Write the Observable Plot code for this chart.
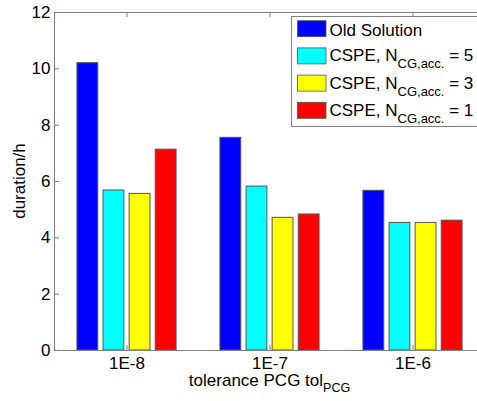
<!DOCTYPE html>
<html><head><meta charset="utf-8">
<script src="https://cdn.jsdelivr.net/npm/d3@7"></script>
<script src="https://cdn.jsdelivr.net/npm/@observablehq/plot@0.6"></script>
<style>
body{margin:0;background:#fff;}
#chart{width:477px;height:401px;overflow:hidden;position:relative;}
</style></head><body><div id="chart"></div>
<script>
const groups = ["1E-8", "1E-7", "1E-6"];
const seriesNames = ["Old Solution", "CSPE N=5", "CSPE N=3", "CSPE N=1"];
const legendMain = ["Old Solution", "CSPE, N", "CSPE, N", "CSPE, N"];
const legendSub = ["", "CG,acc.", "CG,acc.", "CG,acc."];
const legendTail = ["", " = 5", " = 3", " = 1"];
const colors = ["#0000ff", "#00ffff", "#ffff00", "#ff0000"];
const oldSolution = [10.2, 7.55, 5.67];
const cspe5 = [5.68, 5.82, 4.53];
const cspe3 = [5.56, 4.71, 4.53];
const cspe1 = [7.13, 4.83, 4.61];
const yTicks = [0, 2, 4, 6, 8, 10, 12];
const yLabel = "duration/h";
const xLabelMain = "tolerance PCG tol";
const xLabelSub = "PCG";

const values = [oldSolution, cspe5, cspe3, cspe1];
const W = 485, H = 401, mL = 54, mR = 0, mT = 12, mB = 51;
const frameW = W - mL - mR, frameH = H - mT - mB;
const step = frameW / groups.length;
const barW = 21.5, pitch = 26.1;
const axisColor = "#808080";
const font = "'Liberation Sans', Arial, Helvetica, sans-serif";

const barMarks = values.map((vals, i) =>
  Plot.barY(groups.map((g, j) => ({group: g, value: vals[j], series: seriesNames[i]})), {
    x: "group", y: "value", fill: colors[i], stroke: "#555", strokeWidth: 1,
    insetLeft: (step - barW) / 2, insetRight: (step - barW) / 2, dx: (i - 1.5) * pitch
  })
);

const svg = Plot.plot({
  width: W, height: H,
  marginLeft: mL, marginRight: mR, marginTop: mT, marginBottom: mB,
  style: {fontSize: "17px", fontFamily: font, maxWidth: "none", background: "#fff", color: "#000"},
  x: {domain: groups, padding: 0, tickSize: 0, tickPadding: 6, label: null},
  y: {domain: [0, 12], ticks: yTicks, tickSize: 0, tickPadding: 4, label: null},
  marks: [
    ...barMarks,
    Plot.tickY(yTicks, {y: d => d, stroke: axisColor, insetRight: frameW - 5}),
    Plot.tickX(groups, {x: d => d, stroke: axisColor, insetTop: frameH - 5}),
    Plot.tickX(groups, {x: d => d, stroke: axisColor, insetBottom: frameH - 5}),
    Plot.frame({stroke: axisColor})
  ]
});

const s = d3.select(svg);
// y label
s.append("text").attr("transform", `translate(25,${mT + frameH / 2}) rotate(-90)`)
  .attr("text-anchor", "middle").attr("font-size", 17).attr("font-family", font).text(yLabel);
// x label with subscript
const xl = s.append("text").attr("x", mL + frameW / 2).attr("y", 386)
  .attr("text-anchor", "middle").attr("font-size", 17).attr("font-family", font);
xl.append("tspan").text(xLabelMain);
xl.append("tspan").attr("font-size", 12.5).attr("dy", 6).text(xLabelSub);

// legend
const lg = s.append("g").attr("font-family", font).attr("text-anchor", "start");
lg.append("rect").attr("x", 291.5).attr("y", 16.5).attr("width", 200).attr("height", 110)
  .attr("fill", "#fff").attr("stroke", axisColor);
legendMain.forEach((m, i) => {
  const cy = 28.7 + i * 27.2;
  lg.append("rect").attr("x", 297.5).attr("y", cy - 8).attr("width", 28.5).attr("height", 16)
    .attr("fill", colors[i]).attr("stroke", "#555").attr("stroke-width", 0.8);
  const t = lg.append("text").attr("x", 329.5).attr("y", legendSub[i] ? cy + 5.5 : cy + 7)
    .attr("font-size", 17).attr("text-anchor", "start");
  t.append("tspan").text(m);
  if (legendSub[i]) {
    t.append("tspan").attr("font-size", 13).attr("dy", 7).text(legendSub[i]);
    t.append("tspan").attr("dy", -7).text(legendTail[i]);
  }
});

document.getElementById("chart").appendChild(svg);
</script></body></html>
